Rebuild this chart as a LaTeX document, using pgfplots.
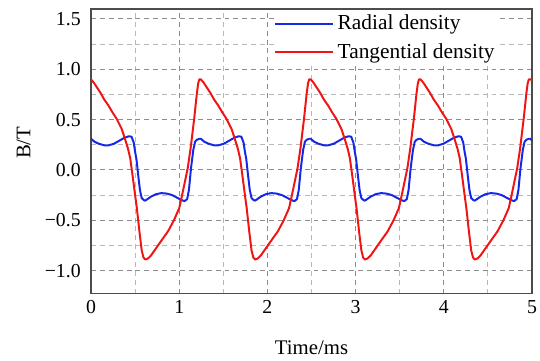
\documentclass[border=0pt]{standalone}
\usepackage{fontspec}
\setmainfont{Liberation Serif}
\usepackage{pgfplots}
\pgfplotsset{compat=1.18}
\begin{document}
\begin{tikzpicture}
\begin{axis}[
  scale only axis, width=223pt, height=144pt,
  xmin=0, xmax=5, ymin=-1.23, ymax=1.6,
  xtick={0,1,2,3,4,5}, xticklabels={0,1,2,3,4,5},
  ytick={-1,-0.5,0,0.5,1,1.5},
  yticklabels={−1.0,−0.5,0.0,0.5,1.0,1.5},
  minor x tick num=1, minor y tick num=1,
  grid=both,
  major grid style={dash pattern=on 2.5pt off 2pt, black!45, line width=0.5pt},
  minor grid style={dash pattern=on 2.5pt off 2pt, black!28, line width=0.5pt},
  major tick length=0pt, minor tick length=0pt,
  axis line style={black!70, line width=0.7pt},
  tick label style={font=\fontsize{10}{12}\selectfont},
  xticklabel style={anchor=base, yshift=-9.85pt},
  yticklabel style={anchor=east, inner sep=0pt, xshift=-5pt},
  label style={font=\fontsize{10.5}{12.5}\selectfont},
  xlabel={Time/ms},
  ylabel={B/T},
  xlabel style={at={(axis description cs:0.5,0)}, anchor=base, yshift=-30.5pt},
  ylabel style={at={(axis description cs:-0.1525,0.53)}, anchor=center},
  legend style={at={(axis description cs:0.415,0.995)}, anchor=north west, draw=none, fill=white, inner sep=0pt,
    font=\fontsize{10.8}{13}\selectfont, row sep=1.5pt},
  legend cell align=left,
  legend image code/.code={\draw[#1] (0pt,0pt) -- (29pt,0pt);},
  every axis plot/.append style={line width=1pt, line join=round},
]
\addplot[color={rgb,255:red,20;green,40;blue,230}] coordinates {
(0.000,0.31)(0.040,0.28)(0.090,0.26)(0.150,0.245)(0.200,0.245)(0.260,0.26)(0.320,0.29)(0.380,0.32)(0.430,0.335)(0.460,0.33)(0.485,0.27)(0.500,0.18)(0.515,0.11)(0.535,-0.05)(0.555,-0.20)(0.575,-0.28)(0.600,-0.30)(0.615,-0.305)(0.640,-0.29)(0.680,-0.265)(0.740,-0.24)(0.800,-0.23)(0.860,-0.235)(0.920,-0.25)(0.985,-0.28)(1.030,-0.30)(1.060,-0.31)(1.090,-0.29)(1.110,-0.20)(1.134,0.02)(1.160,0.20)(1.180,0.28)(1.200,0.30)(1.230,0.31)
(1.245,0.31)(1.285,0.28)(1.335,0.26)(1.395,0.245)(1.445,0.245)(1.505,0.26)(1.565,0.29)(1.625,0.32)(1.675,0.335)(1.705,0.33)(1.730,0.27)(1.745,0.18)(1.760,0.11)(1.780,-0.05)(1.800,-0.20)(1.820,-0.28)(1.845,-0.30)(1.860,-0.305)(1.885,-0.29)(1.925,-0.265)(1.985,-0.24)(2.045,-0.23)(2.105,-0.235)(2.165,-0.25)(2.230,-0.28)(2.275,-0.30)(2.305,-0.31)(2.335,-0.29)(2.355,-0.20)(2.379,0.02)(2.405,0.20)(2.425,0.28)(2.445,0.30)(2.475,0.31)
(2.490,0.31)(2.530,0.28)(2.580,0.26)(2.640,0.245)(2.690,0.245)(2.750,0.26)(2.810,0.29)(2.870,0.32)(2.920,0.335)(2.950,0.33)(2.975,0.27)(2.990,0.18)(3.005,0.11)(3.025,-0.05)(3.045,-0.20)(3.065,-0.28)(3.090,-0.30)(3.105,-0.305)(3.130,-0.29)(3.170,-0.265)(3.230,-0.24)(3.290,-0.23)(3.350,-0.235)(3.410,-0.25)(3.475,-0.28)(3.520,-0.30)(3.550,-0.31)(3.580,-0.29)(3.600,-0.20)(3.624,0.02)(3.650,0.20)(3.670,0.28)(3.690,0.30)(3.720,0.31)
(3.735,0.31)(3.775,0.28)(3.825,0.26)(3.885,0.245)(3.935,0.245)(3.995,0.26)(4.055,0.29)(4.115,0.32)(4.165,0.335)(4.195,0.33)(4.220,0.27)(4.235,0.18)(4.250,0.11)(4.270,-0.05)(4.290,-0.20)(4.310,-0.28)(4.335,-0.30)(4.350,-0.305)(4.375,-0.29)(4.415,-0.265)(4.475,-0.24)(4.535,-0.23)(4.595,-0.235)(4.655,-0.25)(4.720,-0.28)(4.765,-0.30)(4.795,-0.31)(4.825,-0.29)(4.845,-0.20)(4.869,0.02)(4.895,0.20)(4.915,0.28)(4.935,0.30)(4.965,0.31)
(4.980,0.31)(5.000,0.29)
};
\addlegendentry{Radial density}
\addplot[color={rgb,255:red,240;green,20;blue,20}] coordinates {
(0.000,0.90)(0.030,0.87)(0.060,0.83)(0.105,0.77)(0.150,0.70)(0.198,0.64)(0.245,0.57)(0.290,0.51)(0.347,0.41)(0.385,0.31)(0.420,0.21)(0.445,0.115)(0.475,-0.08)(0.500,-0.25)(0.520,-0.38)(0.550,-0.62)(0.575,-0.80)(0.595,-0.87)(0.615,-0.89)(0.645,-0.88)(0.680,-0.85)(0.720,-0.80)(0.800,-0.70)(0.873,-0.61)(0.940,-0.50)(1.000,-0.38)(1.040,-0.22)(1.097,0.02)(1.130,0.22)(1.170,0.51)(1.200,0.76)(1.215,0.86)(1.228,0.90)
(1.245,0.90)(1.275,0.87)(1.305,0.83)(1.350,0.77)(1.395,0.70)(1.443,0.64)(1.490,0.57)(1.535,0.51)(1.592,0.41)(1.630,0.31)(1.665,0.21)(1.690,0.115)(1.720,-0.08)(1.745,-0.25)(1.765,-0.38)(1.795,-0.62)(1.820,-0.80)(1.840,-0.87)(1.860,-0.89)(1.890,-0.88)(1.925,-0.85)(1.965,-0.80)(2.045,-0.70)(2.118,-0.61)(2.185,-0.50)(2.245,-0.38)(2.285,-0.22)(2.342,0.02)(2.375,0.22)(2.415,0.51)(2.445,0.76)(2.460,0.86)(2.473,0.90)
(2.490,0.90)(2.520,0.87)(2.550,0.83)(2.595,0.77)(2.640,0.70)(2.688,0.64)(2.735,0.57)(2.780,0.51)(2.837,0.41)(2.875,0.31)(2.910,0.21)(2.935,0.115)(2.965,-0.08)(2.990,-0.25)(3.010,-0.38)(3.040,-0.62)(3.065,-0.80)(3.085,-0.87)(3.105,-0.89)(3.135,-0.88)(3.170,-0.85)(3.210,-0.80)(3.290,-0.70)(3.363,-0.61)(3.430,-0.50)(3.490,-0.38)(3.530,-0.22)(3.587,0.02)(3.620,0.22)(3.660,0.51)(3.690,0.76)(3.705,0.86)(3.718,0.90)
(3.735,0.90)(3.765,0.87)(3.795,0.83)(3.840,0.77)(3.885,0.70)(3.933,0.64)(3.980,0.57)(4.025,0.51)(4.082,0.41)(4.120,0.31)(4.155,0.21)(4.180,0.115)(4.210,-0.08)(4.235,-0.25)(4.255,-0.38)(4.285,-0.62)(4.310,-0.80)(4.330,-0.87)(4.350,-0.89)(4.380,-0.88)(4.415,-0.85)(4.455,-0.80)(4.535,-0.70)(4.608,-0.61)(4.675,-0.50)(4.735,-0.38)(4.775,-0.22)(4.832,0.02)(4.865,0.22)(4.905,0.51)(4.935,0.76)(4.950,0.86)(4.963,0.90)
(4.980,0.90)(5.000,0.89)
};
\addlegendentry{Tangential density}
\end{axis}
\pgfresetboundingbox
\path ([xshift=-46pt,yshift=-34pt]current axis.south west) rectangle ([xshift=4pt,yshift=4.5pt]current axis.north east);
\end{tikzpicture}
\end{document}
